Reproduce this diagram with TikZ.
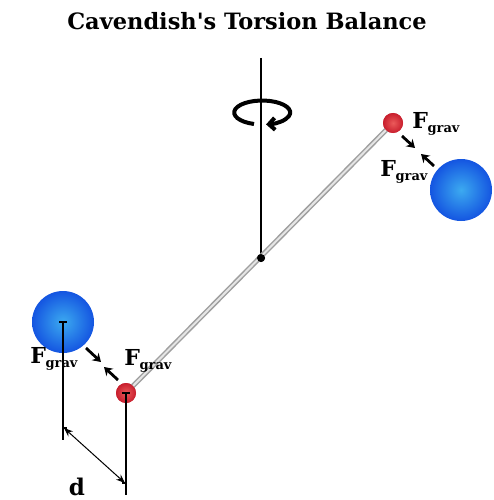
\documentclass[tikz,border=0pt]{standalone}
\usepackage{fontspec}
\setmainfont{DejaVu Serif}
\usetikzlibrary{arrows.meta}
\definecolor{bluein}{RGB}{60,170,240}
\definecolor{blueout}{RGB}{20,85,225}
\definecolor{redin}{RGB}{235,90,90}
\definecolor{redout}{RGB}{200,30,45}
\newcommand{\fgrav}{{\fontsize{22}{22}\selectfont\bfseries F}\kern-0.5pt\raisebox{-4pt}{\fontsize{13}{13}\selectfont\bfseries grav}}
\tikzset{
  bigmass/.style={circle, inner sep=0pt, minimum size=62pt, inner color=bluein, outer color=blueout},
  smallmass/.style={circle, inner sep=0pt, minimum size=20pt, inner color=redin, outer color=redout},
  force/.style={line width=2.8pt, -{Stealth[length=8pt,width=10pt]}},
  guide/.style={line width=1.2pt, black},
  lbl/.style={inner sep=0pt, font=\bfseries}
}
\begin{document}
\begin{tikzpicture}[x=1pt, y=-1pt]
\useasboundingbox (0,0) rectangle (493,500);
% title
\node[inner sep=0pt, font=\fontsize{22.5}{22.5}\selectfont\bfseries] (title) at (247,21) {Cavendish\textquotesingle s Torsion Balance};
% suspension wire and pivot
\coordinate (top) at (261,58);
\node[circle, fill=black, inner sep=0pt, minimum size=8pt] (pivot) at (261,258) {};
% rotation indicator
\draw[line width=4pt, -{Straight Barb[length=6pt,width=12pt]}] (254,124) arc[start angle=107, end angle=442, x radius=28, y radius=12];
\draw[line width=1.3pt] (top) -- (pivot.center);
% large masses
\node[bigmass] (bigL) at (63,322) {};
\node[bigmass] (bigR) at (461,190) {};
% small masses
\node[smallmass] (smallL) at (126,393) {};
\node[smallmass] (smallR) at (393,123) {};
% rod
\draw[line width=5pt, gray!75] (smallL.center) -- (smallR.center);
\draw[line width=2pt, gray!20] (smallL.center) -- (smallR.center);
\node[smallmass] at (126,393) {};
\node[smallmass] at (393,123) {};
\node[circle, fill=black, inner sep=0pt, minimum size=8pt] at (261,258) {};
% guide lines
\coordinate (gL) at (63,440);
\coordinate (gR) at (126,495);
\draw[guide] (bigL.center) -- (gL);
\draw[guide] (smallL.center) -- (gR);
\draw[guide] ([xshift=-4pt]bigL.center) -- ([xshift=4pt]bigL.center);
\draw[guide] ([xshift=-4pt]smallL.center) -- ([xshift=4pt]smallL.center);
\coordinate (dA) at (63,428);
\coordinate (dB) at (126,483);
\draw[guide] (dA) -- ++(4,0);
\draw[guide] (dB) -- ++(-4,0);
\draw[line width=1pt, {Stealth[length=9pt,width=7pt]}-{Stealth[length=9pt,width=7pt]}] ([xshift=1pt]dA) -- ([xshift=-1pt]dB);
\node[lbl, anchor=base, font=\fontsize{23}{23}\selectfont\bfseries] (d) at (77,495) {d};
% forces, left pair
\coordinate (fL1a) at (86,348);
\coordinate (fL1b) at (101,362);
\coordinate (fL2a) at (118,380);
\coordinate (fL2b) at (104,367);
\draw[force] (fL1a) -- (fL1b);
\draw[force] (fL2a) -- (fL2b);
\node[lbl] (fgL1) at (54,359) {\fgrav};
\node[lbl] (fgL2) at (148,361) {\fgrav};
% forces, right pair
\coordinate (fR1a) at (402,136);
\coordinate (fR1b) at (415,148);
\coordinate (fR2a) at (434,166);
\coordinate (fR2b) at (421,154);
\draw[force] (fR1a) -- (fR1b);
\draw[force] (fR2a) -- (fR2b);
\node[lbl] (fgR1) at (436,124) {\fgrav};
\node[lbl] (fgR2) at (404,172) {\fgrav};
\end{tikzpicture}
\end{document}
